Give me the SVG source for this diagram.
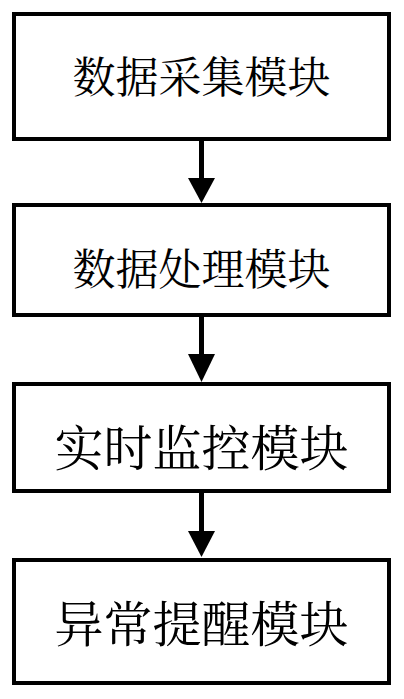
<svg xmlns="http://www.w3.org/2000/svg" width="404" height="699" viewBox="0 0 404 699">
<style>
.box{fill:#fff;stroke:#000;stroke-width:4}
.t{font-family:"Noto Serif CJK SC","Noto Sans CJK SC",serif;fill:#000;text-anchor:middle}
.s{font-size:43px}
.l{font-size:49px}
.c{stroke:#000;stroke-width:5;fill:none}
</style>
<rect width="404" height="699" fill="#fff"/>
<g id="node1"><rect class="box" x="14" y="14" width="375" height="125"/><text class="t s" x="201.5" y="93">数据采集模块</text></g>
<g id="node2"><rect class="box" x="14" y="205" width="375" height="110"/><text class="t s" x="201.5" y="285">数据处理模块</text></g>
<g id="node3"><rect class="box" x="14" y="384" width="375" height="107"/><text class="t l" x="201.5" y="466">实时监控模块</text></g>
<g id="node4"><rect class="box" x="14" y="560" width="375" height="123"/><text class="t l" x="201.5" y="642">异常提醒模块</text></g>
<g id="connectors">
<line class="c" x1="201.5" y1="141" x2="201.5" y2="180"/><polygon points="188,178 215,178 201.5,203"/>
<line class="c" x1="201.5" y1="317" x2="201.5" y2="356"/><polygon points="188,354 215,354 201.5,382"/>
<line class="c" x1="201.5" y1="493" x2="201.5" y2="533"/><polygon points="188,531 215,531 201.5,557"/>
</g>
</svg>
